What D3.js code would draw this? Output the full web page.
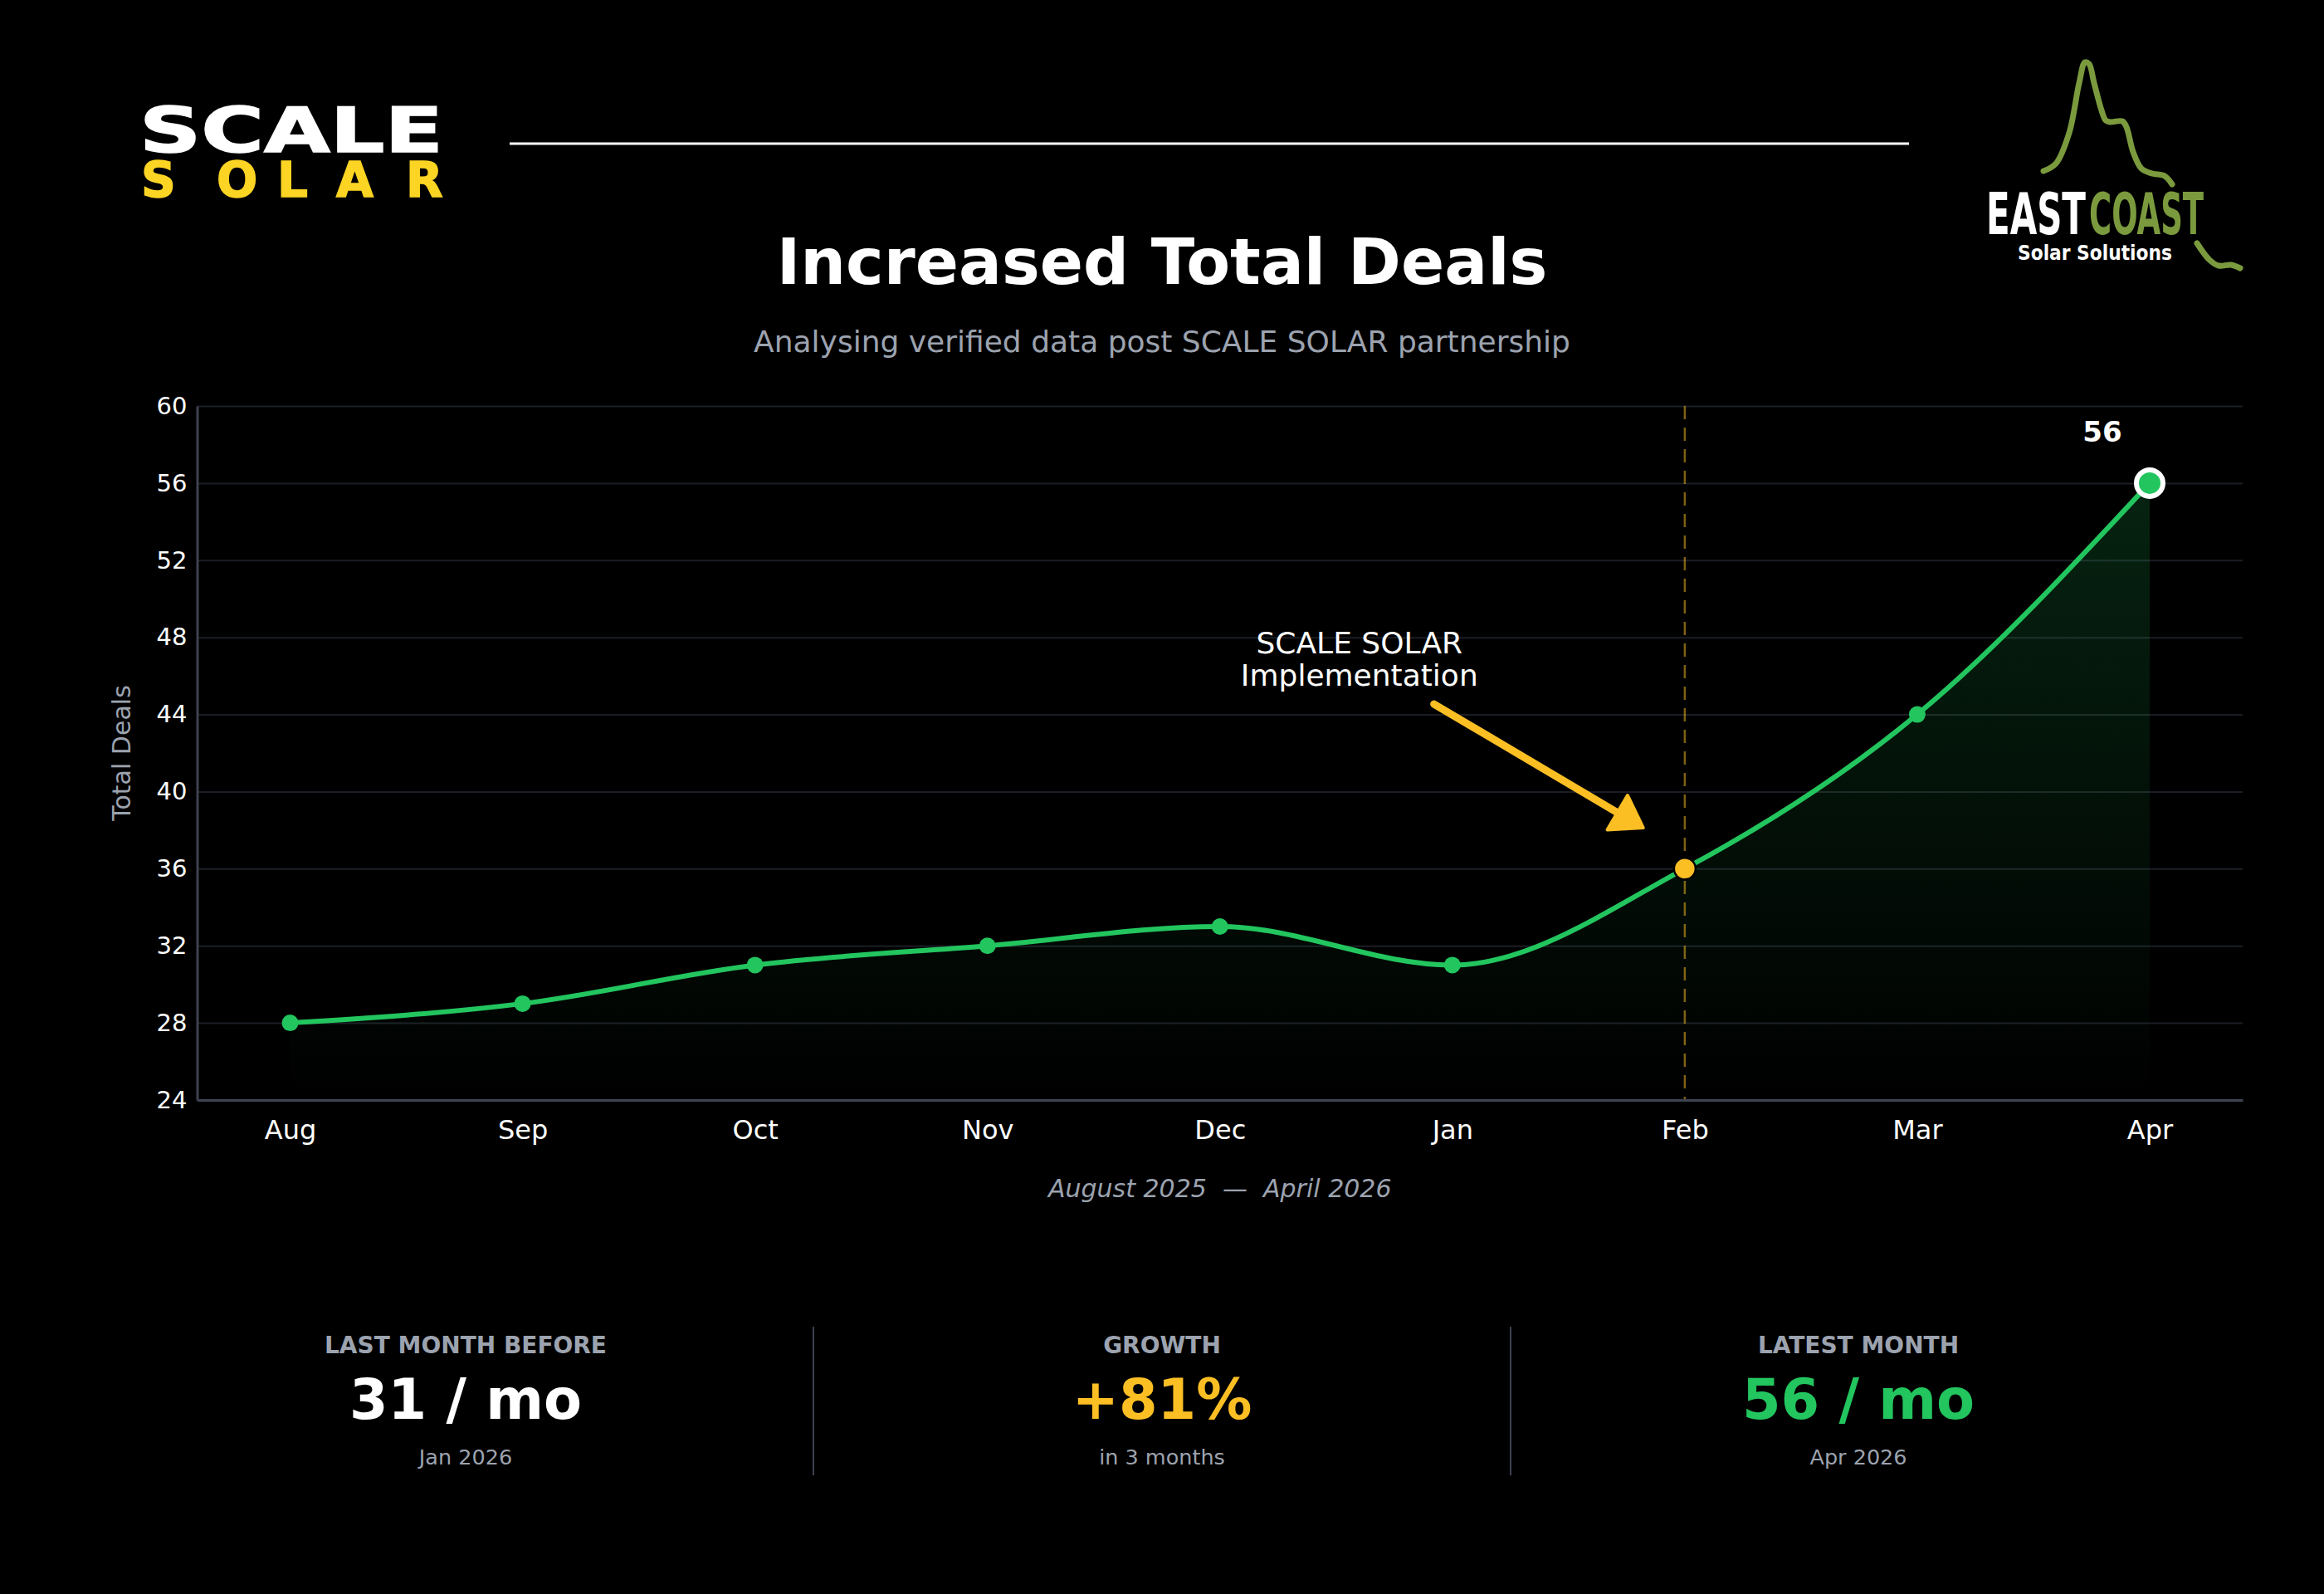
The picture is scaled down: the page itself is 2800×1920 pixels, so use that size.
<!DOCTYPE html>
<html>
<head>
<meta charset="utf-8">
<script src="https://cdn.jsdelivr.net/npm/d3@7"></script>
<style>
html,body{margin:0;padding:0;background:#000;}
svg{display:block;}
text{font-family:"DejaVu Sans",sans-serif;}
</style>
</head>
<body>
<svg id="chart" width="2800" height="1920"></svg>
<script>
// ---- data ----
const months = ["Aug","Sep","Oct","Nov","Dec","Jan","Feb","Mar","Apr"];
const deals = [28,29,31,32,33,31,36,44,56];
const yTicks = [24,28,32,36,40,44,48,52,56,60];
const implementationIndex = 6;
const statLabels = ["LAST MONTH BEFORE","GROWTH","LATEST MONTH"];
const statValues = ["31 / mo","+81%","56 / mo"];
const statSubs = ["Jan 2026","in 3 months","Apr 2026"];

// ---- styles ----
const GREEN = "#22c55e", YELLOW = "#fbbf24", GRAY = "#9ca3af";
const W = 2800, H = 1920;
const plot = {left: 237.5, right: 2702, top: 489, bottom: 1325};

const svg = d3.select("#chart");
svg.append("rect").attr("width", W).attr("height", H).attr("fill", "#000");

const x = d3.scaleLinear().domain([-0.4, months.length - 1 + 0.4]).range([plot.left, plot.right]);
const y = d3.scaleLinear().domain([24, 60]).range([plot.bottom, plot.top]);

// ---- header ----
const logo = svg.append("g");
logo.append("text").attr("x", 168).attr("y", 183)
  .attr("font-size", 74).attr("font-weight", 900).attr("fill", "#fff")
  .attr("stroke", "#fff").attr("stroke-width", 1.5)
  .attr("textLength", 366).attr("lengthAdjust", "spacingAndGlyphs").text("SCALE");
logo.append("text").attr("x", "170 261 334 405 489").attr("y", 237)
  .attr("font-size", 58).attr("font-weight", 900).attr("fill", "#fcd423")
  .attr("stroke", "#fcd423").attr("stroke-width", 1.5).text("SOLAR");

svg.append("line").attr("x1", 614).attr("x2", 2300).attr("y1", 173).attr("y2", 173)
  .attr("stroke", "#fff").attr("stroke-width", 3);

// East Coast logo
const ec = svg.append("g");
const OLIVE = "#7b9a3e";
const mountain = [[2462,206],[2477,197],[2493,160],[2505,100],[2512,75],[2517,77],[2523,100],[2532,133],[2537,145],[2542,147],[2557,146],[2562,153],[2570,183],[2580,203],[2593,209],[2608,212],[2617,222]];
const tail = [[2647,293],[2662,313],[2673,320],[2688,319],[2699,323]];
const lg = d3.line().curve(d3.curveCatmullRom);
ec.append("path").attr("d", lg(mountain)).attr("fill","none").attr("stroke",OLIVE).attr("stroke-width",7).attr("stroke-linecap","round");
ec.append("path").attr("d", lg(tail)).attr("fill","none").attr("stroke",OLIVE).attr("stroke-width",7).attr("stroke-linecap","round");
ec.append("text").attr("x", 2393).attr("y", 282).attr("font-family","'Liberation Sans Narrow','DejaVu Sans Condensed',sans-serif")
  .attr("font-size", 69).attr("font-weight", 700).attr("fill", "#fff").attr("textLength", 120).attr("lengthAdjust","spacingAndGlyphs").text("EAST");
ec.append("text").attr("x", 2517).attr("y", 282).attr("font-family","'Liberation Sans Narrow','DejaVu Sans Condensed',sans-serif")
  .attr("font-size", 69).attr("font-weight", 700).attr("fill", OLIVE).attr("textLength", 138).attr("lengthAdjust","spacingAndGlyphs").text("COAST");
ec.append("text").attr("x", 2431).attr("y", 313).attr("font-family","'Open Sans','DejaVu Sans',sans-serif")
  .attr("font-size", 25).attr("font-weight", 700).attr("fill", "#fff").attr("textLength", 186).attr("lengthAdjust","spacingAndGlyphs").text("Solar Solutions");

// title
svg.append("text").attr("x", 1400).attr("y", 342).attr("text-anchor","middle")
  .attr("font-size", 77).attr("font-weight", 700).attr("fill", "#fff").text("Increased Total Deals");
svg.append("text").attr("x", 1400).attr("y", 424).attr("text-anchor","middle")
  .attr("font-size", 36).attr("fill", GRAY).text("Analysing verified data post SCALE SOLAR partnership");

// ---- grid ----
const grid = svg.append("g").attr("transform", `translate(${plot.left},0)`)
  .call(d3.axisLeft(y).tickValues(yTicks).tickSize(-(plot.right - plot.left)).tickFormat(""));
grid.select(".domain").remove();
grid.selectAll("line").attr("stroke", "#1b1e25").attr("stroke-width", 2);

// ---- area ----
const defs = svg.append("defs");
const grad = defs.append("linearGradient").attr("id","areaGrad")
  .attr("gradientUnits","userSpaceOnUse").attr("x1",0).attr("x2",0).attr("y1",y(60)).attr("y2",y(24));
grad.append("stop").attr("offset","0%").attr("stop-color",GREEN).attr("stop-opacity",0.2);
grad.append("stop").attr("offset","100%").attr("stop-color",GREEN).attr("stop-opacity",0.0);

const pts = deals.map((d,i)=>({i, v:d}));
const area = d3.area().x(d=>x(d.i)).y0(y(24)).y1(d=>y(d.v)).curve(d3.curveMonotoneX);
svg.append("path").datum(pts).attr("d", area).attr("fill","url(#areaGrad)");

// dashed implementation line
svg.append("line").attr("x1", x(implementationIndex)).attr("x2", x(implementationIndex))
  .attr("y1", plot.top).attr("y2", plot.bottom)
  .attr("stroke", YELLOW).attr("stroke-opacity", 0.5).attr("stroke-width", 2.5).attr("stroke-dasharray","16,10");

// line
const line = d3.line().x(d=>x(d.i)).y(d=>y(d.v)).curve(d3.curveMonotoneX);
svg.append("path").datum(pts).attr("d", line).attr("fill","none").attr("stroke",GREEN).attr("stroke-width",6);

// axes
const yAxis = svg.append("g").attr("transform", `translate(${plot.left},0)`)
  .call(d3.axisLeft(y).tickValues(yTicks).tickSize(0).tickPadding(12));
yAxis.select(".domain").attr("stroke","#3d4350").attr("stroke-width",3);
yAxis.selectAll("text").attr("fill","#fff").attr("font-size",29).attr("font-family","DejaVu Sans");

const xAxis = svg.append("g").attr("transform", `translate(0,${plot.bottom})`)
  .call(d3.axisBottom(x).tickValues(d3.range(months.length)).tickFormat(i=>months[i]).tickSize(0).tickPadding(24));
xAxis.select(".domain").attr("stroke","#3d4350").attr("stroke-width",3);
xAxis.selectAll("text").attr("fill","#fff").attr("font-size",32).attr("font-family","DejaVu Sans");

svg.append("text").attr("transform", `translate(157,${(plot.top+plot.bottom)/2}) rotate(-90)`)
  .attr("text-anchor","middle").attr("font-size",30).attr("fill",GRAY).text("Total Deals");
svg.append("text").attr("x",(plot.left+plot.right)/2).attr("y",1442).attr("text-anchor","middle")
  .attr("font-size",30).attr("font-style","italic").attr("fill",GRAY).attr("xml:space","preserve").text("August 2025  \u2014  April 2026");

// markers
const last = pts.length - 1;
svg.selectAll("circle.pt").data(pts.filter(d=>d.i!==implementationIndex && d.i!==last)).enter()
  .append("circle").attr("class","pt").attr("cx",d=>x(d.i)).attr("cy",d=>y(d.v)).attr("r",10).attr("fill",GREEN);
svg.append("circle").attr("cx",x(implementationIndex)).attr("cy",y(deals[implementationIndex])).attr("r",13)
  .attr("fill",YELLOW).attr("stroke","#000").attr("stroke-width",2.5);
svg.append("circle").attr("cx",x(last)).attr("cy",y(deals[last])).attr("r",16)
  .attr("fill",GREEN).attr("stroke","#fff").attr("stroke-width",6);
svg.append("text").attr("x",x(last)-57).attr("y",y(deals[last])-50).attr("text-anchor","middle")
  .attr("font-size",34).attr("font-weight",700).attr("fill","#fff").text(deals[last]);

// annotation
const annText = {x: 4.6, y: 45.49};
const arrowFrom = {x: 4.921, y: 44.54};
const arrowTo = {x: 5.821, y: 38.12};
const ann = svg.append("text").attr("text-anchor","middle").attr("font-size",36).attr("fill","#fff");
ann.append("tspan").attr("x", x(annText.x)).attr("y", y(annText.y) - 39).text("SCALE SOLAR");
ann.append("tspan").attr("x", x(annText.x)).attr("y", y(annText.y)).text("Implementation");

const ax0 = x(arrowFrom.x), ay0 = y(arrowFrom.y), ax1 = x(arrowTo.x), ay1 = y(arrowTo.y);
const dx = ax1-ax0, dy = ay1-ay0, L = Math.hypot(dx,dy), ux = dx/L, uy = dy/L;
const headLen = 36, headHalf = 24;
const bx = ax1 - ux*headLen, by = ay1 - uy*headLen;
svg.append("line").attr("x1",ax0).attr("y1",ay0).attr("x2",bx+ux*4).attr("y2",by+uy*4)
  .attr("stroke",YELLOW).attr("stroke-width",9).attr("stroke-linecap","round");
svg.append("path").attr("d", d3.line()([[ax1,ay1],[bx - uy*headHalf, by + ux*headHalf],[bx + uy*headHalf, by - ux*headHalf]]) + "Z")
  .attr("fill",YELLOW).attr("stroke",YELLOW).attr("stroke-width",4).attr("stroke-linejoin","round");

// ---- stats ----
const statX = [561, 1400, 2239];
const statColors = ["#fff", YELLOW, GREEN];
const stats = svg.selectAll("g.stat").data(statLabels).enter().append("g").attr("class","stat")
  .attr("transform",(d,i)=>`translate(${statX[i]},0)`);
stats.append("text").attr("y",1630).attr("text-anchor","middle").attr("font-size",28).attr("font-weight",700).attr("fill",GRAY).text(d=>d);
stats.append("text").attr("y",1709).attr("text-anchor","middle").attr("font-size",67).attr("font-weight",700).attr("fill",(d,i)=>statColors[i]).text((d,i)=>statValues[i]);
stats.append("text").attr("y",1764).attr("text-anchor","middle").attr("font-size",25.5).attr("fill",GRAY).text((d,i)=>statSubs[i]);
[980, 1820].forEach(sx => svg.append("line").attr("x1",sx).attr("x2",sx).attr("y1",1598).attr("y2",1777)
  .attr("stroke","#3d4350").attr("stroke-width",2));
</script>
</body>
</html>
